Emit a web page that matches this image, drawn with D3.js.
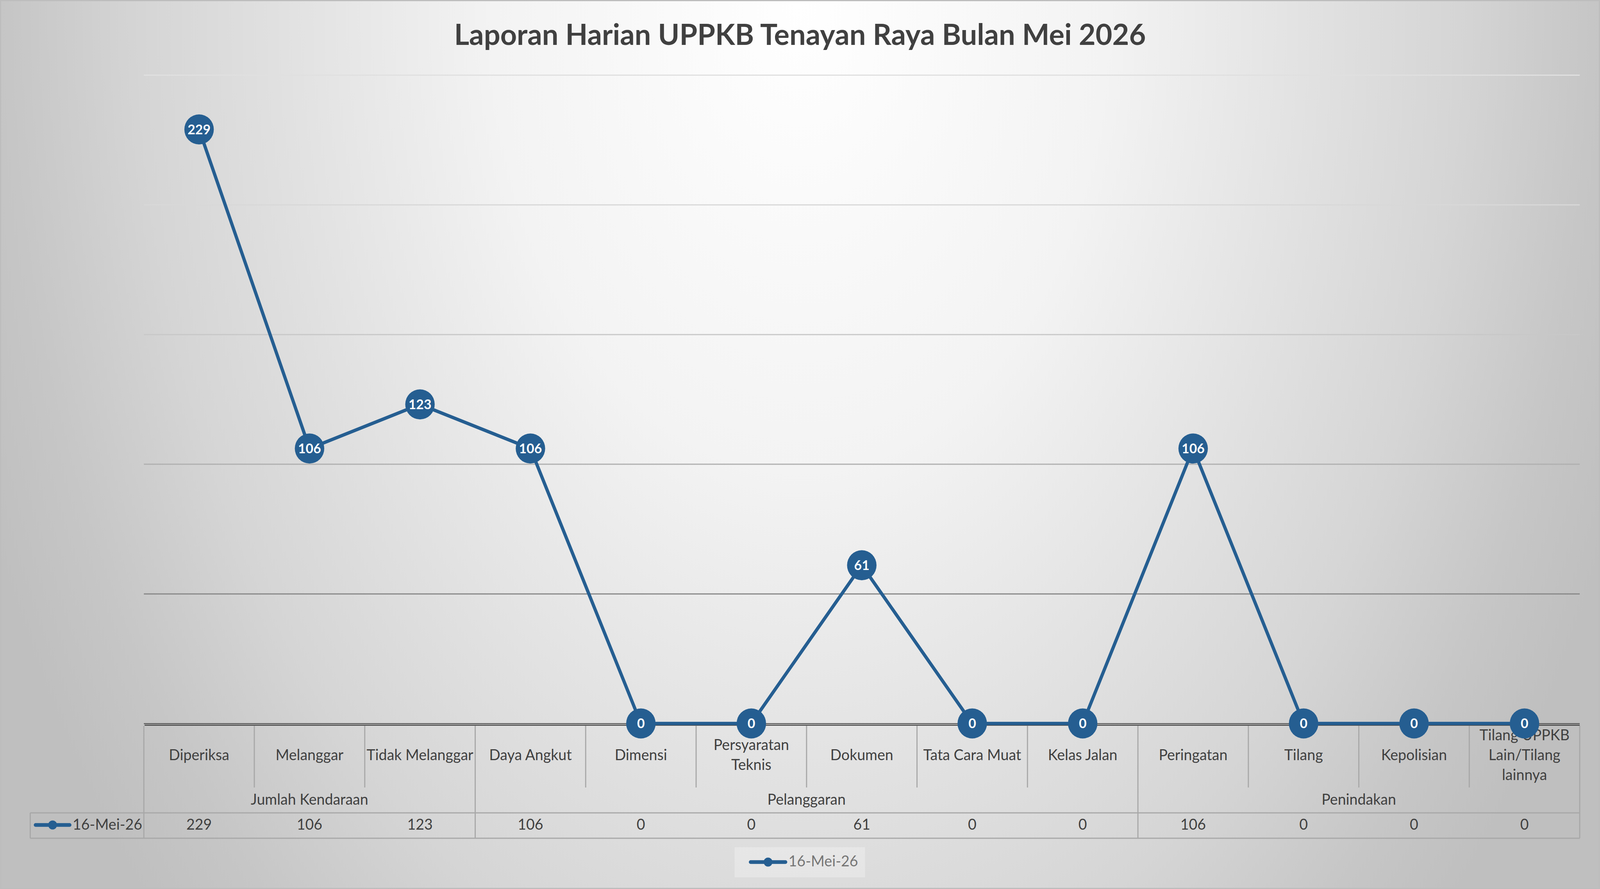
<!DOCTYPE html>
<html>
<head>
<meta charset="utf-8">
<script src="https://cdn.jsdelivr.net/npm/d3@7/dist/d3.min.js"></script>
<style>
  html, body { margin: 0; padding: 0; overflow: hidden; background: #fff; width: 100%; height: 100%; }
  svg { display: block; width: 100vw; height: 100vh; }
</style>
</head>
<body>
<svg id="chart"></svg>
<script>
var width = 4182, height = 2277;

var title = "Laporan Harian UPPKB Tenayan Raya Bulan Mei 2026";
var seriesName = "16-Mei-26";
var categories = ["Diperiksa", "Melanggar", "Tidak Melanggar", "Daya Angkut", "Dimensi",
    "Persyaratan Teknis", "Dokumen", "Tata Cara Muat", "Kelas Jalan", "Peringatan",
    "Tilang", "Kepolisian", "Tilang UPPKB Lain/Tilang lainnya"];
var values = [229, 106, 123, 106, 0, 0, 61, 0, 0, 106, 0, 0, 0];
var groups = ["Jumlah Kendaraan", "Pelanggaran", "Penindakan"];
var groupSizes = [3, 6, 4];
var yTicks = [0, 50, 100, 150, 200, 250];

var blue = "#255e91", ink = "#404040", rule = "#a8a8a8";
var font = "Lato, 'Open Sans', sans-serif";

var svg = d3.select("#chart")
    .attr("viewBox", "0 0 " + width + " " + height)
    .attr("preserveAspectRatio", "none");
var defs = svg.append("defs");

// background: light spot at the top centre, greyer towards the edges
var bg = defs.append("radialGradient")
    .attr("id", "bg")
    .attr("gradientUnits", "userSpaceOnUse")
    .attr("cx", 0).attr("cy", 0).attr("r", 2300)
    .attr("gradientTransform", "translate(2091,0) scale(1,1.5)");
[[0, "#ffffff"], [0.35, "#f3f3f3"], [0.6, "#e0e0e0"], [0.75, "#d5d5d5"], [0.9, "#c6c6c6"], [1, "#bfbfbf"]]
    .forEach(s => bg.append("stop").attr("offset", s[0]).attr("stop-color", s[1]));

svg.append("rect")
    .attr("x", 1.5).attr("y", 1.5)
    .attr("width", width - 3).attr("height", height - 3)
    .attr("fill", "url(#bg)")
    .attr("stroke", "#bdbdbd").attr("stroke-width", 3);

// text measuring helper, used to size the substitute font like the original
var probe = svg.append("text").attr("font-family", font).attr("x", -9999).attr("y", -9999);
var fit = function(str, target, weight){
    probe.attr("font-size", 100).attr("font-weight", weight).text(str);
    return 100 * target / probe.node().getComputedTextLength();
};
var titleSize = fit(title, 1808, "bold");
var bodySize = fit("Tidak Melanggar", 279, "normal");
var labelSize = fit("106", 60, "bold");
probe.remove();

var x = d3.scaleBand().domain(categories).range([376, 4129]).padding(0);
var y = d3.scaleLinear().domain([0, 250]).range([1853, 192]);
var bw = x.bandwidth();
var cx = d => x(d) + bw / 2;

// gridlines get darker towards the axis
var gridColor = d3.scaleLinear()
    .domain([0, 50, 100, 150, 200, 250])
    .range(["#555555", "#888888", "#b0b0b0", "#c8c8c8", "#d8d8d8", "#e0e0e0"]);

var grid = svg.append("g")
    .attr("transform", "translate(376,0)")
    .call(d3.axisLeft(y).tickValues(yTicks).tickSize(-(4129 - 376)).tickFormat(""));
grid.select(".domain").remove();
grid.selectAll(".tick line")
    .attr("stroke", d => gridColor(d))
    .attr("stroke-width", d => d === 0 ? 2.5 : 3);

// category axis line just under the zero gridline
svg.append("line")
    .attr("x1", 378).attr("x2", 4129)
    .attr("y1", y(0) + 4.5).attr("y2", y(0) + 4.5)
    .attr("stroke", ink).attr("stroke-width", 2.5);

// ---- data table under the plot ----
var table = svg.append("g").attr("stroke", rule).attr("stroke-width", 3);
var groupEdges = [0];
groupSizes.forEach(n => groupEdges.push(groupEdges[groupEdges.length - 1] + n));

d3.range(categories.length + 1).forEach(function(i){
    var xx = 376 + i * bw;
    table.append("line")
        .attr("x1", xx).attr("x2", xx)
        .attr("y1", y(0) + 6)
        .attr("y2", groupEdges.indexOf(i) >= 0 ? 2147 : 2017);
});
[2082, 2147].forEach(function(yy){
    table.append("line").attr("x1", 79).attr("x2", 4129).attr("y1", yy).attr("y2", yy);
});
table.append("line").attr("x1", 79).attr("x2", 79).attr("y1", 2082).attr("y2", 2147);

var txt = svg.append("g")
    .attr("font-family", font)
    .attr("font-size", bodySize)
    .attr("fill", ink)
    .attr("text-anchor", "middle");

// wrap category names inside their cell
var measure = txt.append("text").attr("x", -9999).attr("y", -9999);
var wrap = function(str, maxW){
    var words = str.split(" "), lines = [], cur = "";
    words.forEach(function(w){
        var test = cur ? cur + " " + w : w;
        measure.text(test);
        if (cur && measure.node().getComputedTextLength() > maxW) {
            lines.push(cur); cur = w;
        } else cur = test;
    });
    lines.push(cur);
    return lines;
};

categories.forEach(function(c){
    var lines = wrap(c, bw - 8);
    var t = txt.append("text").attr("x", cx(c));
    lines.forEach(function(l, i){
        t.append("tspan")
            .attr("x", cx(c))
            .attr("y", 1947 + (i - (lines.length - 1) / 2) * 51)
            .text(l);
    });
});
measure.remove();

groups.forEach(function(g, i){
    var a = 376 + groupEdges[i] * bw, b = 376 + groupEdges[i + 1] * bw;
    txt.append("text").attr("x", (a + b) / 2).attr("y", 2061).text(g);
});

categories.forEach(function(c, i){
    txt.append("text").attr("x", cx(c)).attr("y", 2125).text(values[i]);
});

// legend key drawn inside the table's first column, and the legend box below
var legendKey = function(g, x0, x1, yy){
    g.append("line")
        .attr("x1", x0).attr("x2", x1).attr("y1", yy).attr("y2", yy)
        .attr("stroke", blue).attr("stroke-width", 9.5).attr("stroke-linecap", "round");
    g.append("circle")
        .attr("cx", (x0 + x1) / 2).attr("cy", yy).attr("r", 11.5)
        .attr("fill", blue);
};
legendKey(svg, 93, 182, 2113);
txt.append("text").attr("x", 190).attr("y", 2125).attr("text-anchor", "start").text(seriesName);

svg.append("rect")
    .attr("x", 1920).attr("y", 2170).attr("width", 341).attr("height", 77)
    .attr("fill", "#ffffff").attr("fill-opacity", 0.28);
legendKey(svg, 1962, 2053, 2208);
txt.append("text").attr("x", 2061).attr("y", 2219).attr("text-anchor", "start").text(seriesName);

// ---- series ----
var pts = categories.map((c, i) => ({cat: c, v: values[i]}));
var line = d3.line().x(d => cx(d.cat)).y(d => y(d.v));

svg.append("path")
    .datum(pts)
    .attr("d", line)
    .attr("fill", "none")
    .attr("stroke", blue)
    .attr("stroke-width", 8.5)
    .attr("stroke-linejoin", "round");

var mark = svg.append("g").selectAll("g")
    .data(pts)
    .enter().append("g")
    .attr("transform", d => "translate(" + cx(d.cat) + "," + y(d.v) + ")");

mark.append("circle").attr("r", 38.5).attr("fill", blue);
mark.append("text")
    .attr("text-anchor", "middle")
    .attr("dy", "0.36em")
    .attr("font-family", font)
    .attr("font-weight", "bold")
    .attr("font-size", labelSize)
    .attr("fill", "#ffffff")
    .text(d => d.v);

// ---- title ----
svg.append("text")
    .attr("x", width / 2).attr("y", 115)
    .attr("text-anchor", "middle")
    .attr("font-family", font)
    .attr("font-weight", "bold")
    .attr("font-size", titleSize)
    .attr("fill", ink)
    .text(title);
</script>
</body>
</html>
